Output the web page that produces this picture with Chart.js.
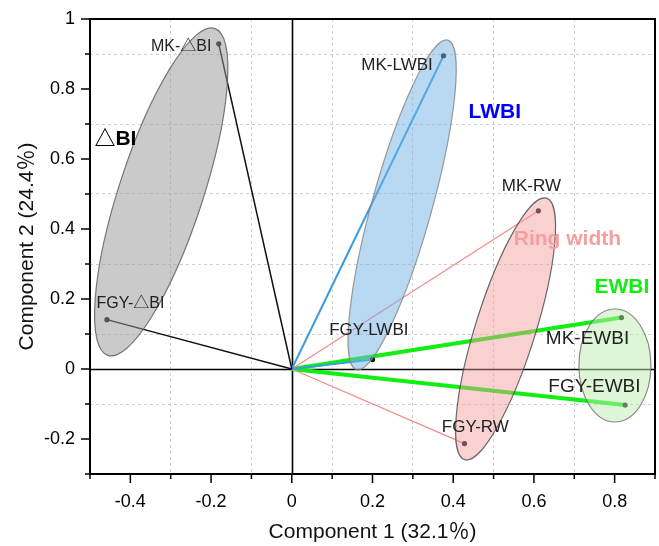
<!DOCTYPE html>
<html>
<head>
<meta charset="utf-8">
<script src="https://cdn.jsdelivr.net/npm/chart.js@4.4.1/dist/chart.umd.min.js"></script>
<style>
  html, body { margin: 0; padding: 0; background: #fff; }
  #wrap { width: 659px; height: 546px; }
</style>
</head>
<body>
<div id="wrap"><canvas id="pcaChart" width="659" height="546"></canvas></div>
<script>
// PCA loadings
const variables = ['MK-△BI', 'FGY-△BI', 'MK-LWBI', 'FGY-LWBI', 'MK-RW', 'FGY-RW', 'MK-EWBI', 'FGY-EWBI'];
const component1 = [-0.181, -0.458, 0.376, 0.200, 0.611, 0.428, 0.817, 0.826];
const component2 = [0.929, 0.141, 0.895, 0.027, 0.452, -0.213, 0.147, -0.103];
const variableGroup = [0, 0, 1, 1, 2, 2, 3, 3];

const groupNames = ['△BI', 'LWBI', 'Ring width', 'EWBI'];
const xTickLabels = [-0.4, -0.2, 0, 0.2, 0.4, 0.6, 0.8];
const yTickLabels = [-0.2, 0, 0.2, 0.4, 0.6, 0.8, 1];

// look of each group: vector colour, ellipse (centre in data units, radii in px), group label spot
const groupStyle = [
  { line: '#111111', lineWidth: 1.5, text: '#000000',
    fill: 'rgba(150,150,150,0.5)', edge: 'rgba(90,90,90,0.8)',
    ell: { cx: -0.3235, cy: 0.506, rx: 172, ry: 42, rot: -71.9 }, tag: { x: -0.437, y: 0.657 } },
  { line: '#3c9be0', lineWidth: 2, text: '#0000ff',
    fill: 'rgba(115,180,232,0.5)', edge: 'rgba(130,130,130,0.8)',
    ell: { cx: 0.2735, cy: 0.469, rx: 171, ry: 30, rot: -74.5 }, tag: { x: 0.503, y: 0.735 } },
  { line: '#f48c8c', lineWidth: 1.3, text: '#f4a0a0',
    fill: 'rgba(245,152,152,0.45)', edge: 'rgba(70,70,70,0.8)',
    ell: { cx: 0.5297, cy: 0.1146, rx: 137, ry: 30, rot: -72.6 }, tag: { x: 0.683, y: 0.371 } },
  { line: '#11ee11', lineWidth: 4, text: '#11ee11',
    fill: 'rgba(190,236,175,0.5)', edge: 'rgba(110,110,110,0.8)',
    ell: { cx: 0.8007, cy: 0.010, rx: 36, ry: 56.5, rot: 0 }, tag: { x: 0.818, y: 0.234 } }
];

// label offsets from the point (px) and font size for each variable
const labelOffset = [[-37.5, 3], [23.5, -16], [-46.5, 9.7], [-3.7, -29], [-7, -24.3], [10.8, -16.4], [-34, 21.3], [-30.7, -18]];
const labelSize = [16, 16, 17, 17, 17, 17, 19, 19];

const FONT = "'Liberation Sans', Arial, 'Noto Sans CJK SC', sans-serif";

function isOddTenth(v) {
  return Math.abs(Math.round(v * 10)) % 2 === 1;
}

const datasets = variables.map((name, i) => {
  const st = groupStyle[variableGroup[i]];
  return {
    label: name,
    data: [{ x: 0, y: 0 }, { x: component1[i], y: component2[i] }],
    showLine: true,
    borderColor: st.line,
    borderWidth: st.lineWidth,
    pointRadius: [0, 2.6],
    pointHoverRadius: [0, 2.6],
    pointBackgroundColor: '#111',
    pointBorderWidth: 0
  };
});

const biplotDecor = {
  id: 'biplotDecor',
  beforeDatasetsDraw(chart) {
    const { ctx, chartArea: a, scales: { x, y } } = chart;
    ctx.save();
    ctx.strokeStyle = '#000';
    ctx.lineWidth = 1.6;
    ctx.beginPath();
    const x0 = Math.round(x.getPixelForValue(0)) + 0.5;
    const y0 = Math.round(y.getPixelForValue(0)) + 0.5;
    ctx.moveTo(x0, a.top); ctx.lineTo(x0, a.bottom);
    ctx.moveTo(a.left, y0); ctx.lineTo(a.right, y0);
    ctx.stroke();
    ctx.restore();
  },
  afterDatasetsDraw(chart) {
    const { ctx, scales: { x, y } } = chart;
    groupStyle.forEach(st => {
      const e = st.ell;
      ctx.save();
      ctx.beginPath();
      ctx.ellipse(x.getPixelForValue(e.cx), y.getPixelForValue(e.cy), e.rx, e.ry, e.rot * Math.PI / 180, 0, Math.PI * 2);
      ctx.fillStyle = st.fill;
      ctx.fill();
      ctx.strokeStyle = st.edge;
      ctx.lineWidth = 1.2;
      ctx.stroke();
      ctx.restore();
    });
  },
  afterDraw(chart) {
    const { ctx, chartArea: a, scales: { x, y } } = chart;
    ctx.save();
    // tick marks, outward on left and bottom
    ctx.strokeStyle = '#000';
    ctx.lineWidth = 1.5;
    ctx.beginPath();
    x.ticks.forEach(t => {
      const px = x.getPixelForValue(t.value);
      const len = isOddTenth(t.value) ? 5 : 9;
      ctx.moveTo(px, a.bottom); ctx.lineTo(px, a.bottom + len);
    });
    y.ticks.forEach(t => {
      const py = y.getPixelForValue(t.value);
      const len = isOddTenth(t.value) ? 5 : 9;
      ctx.moveTo(a.left, py); ctx.lineTo(a.left - len, py);
    });
    ctx.stroke();
    // frame
    ctx.lineWidth = 2;
    ctx.strokeRect(a.left, a.top, a.right - a.left, a.bottom - a.top);

    // variable labels
    ctx.textAlign = 'center';
    ctx.textBaseline = 'middle';
    ctx.fillStyle = '#222';
    variables.forEach((name, i) => {
      const px = x.getPixelForValue(component1[i]) + labelOffset[i][0];
      const py = y.getPixelForValue(component2[i]) + labelOffset[i][1];
      ctx.font = labelSize[i] + 'px ' + FONT;
      ctx.fillText(name, px, py);
    });
    // group labels
    groupNames.forEach((name, g) => {
      const st = groupStyle[g];
      ctx.font = 'bold 21px ' + FONT;
      ctx.fillStyle = st.text;
      ctx.fillText(name, x.getPixelForValue(st.tag.x), y.getPixelForValue(st.tag.y));
    });
    ctx.restore();
  }
};

function tickText(list) {
  return function (value) {
    const v = Math.round(value * 10) / 10;
    return list.some(t => Math.abs(t - v) < 1e-6) ? String(v) : '';
  };
}

const gridColor = c => (c.tick && isOddTenth(c.tick.value)) ? '#cfcfcf' : 'rgba(0,0,0,0)';

const ctx = document.getElementById('pcaChart').getContext('2d');
new Chart(ctx, {
  type: 'scatter',
  data: { datasets: datasets },
  plugins: [biplotDecor],
  options: {
    responsive: false,
    animation: false,
    events: [],
    layout: { padding: { top: 19, right: 4, left: 0, bottom: 0 } },
    plugins: { legend: { display: false }, tooltip: { enabled: false } },
    scales: {
      x: {
        type: 'linear',
        min: -0.5,
        max: 0.9,
        afterFit: s => { s.height = 72; s.paddingLeft = 0; s.paddingRight = 0; },
        ticks: { stepSize: 0.1, autoSkip: false, maxRotation: 0, padding: 17, color: '#000',
                 font: { family: FONT, size: 18 }, callback: tickText(xTickLabels) },
        grid: { color: gridColor, lineWidth: 1, drawTicks: false },
        border: { display: false, dash: [3, 3] },
        title: { display: true, text: 'Component 1 (32.1％)', color: '#111',
                 font: { family: FONT, size: 21 }, padding: { top: 0, bottom: 1 } }
      },
      y: {
        type: 'linear',
        min: -0.3,
        max: 1,
        afterFit: s => { s.width = 90; s.paddingTop = 0; s.paddingBottom = 0; },
        ticks: { stepSize: 0.1, autoSkip: false, padding: 15, color: '#000',
                 font: { family: FONT, size: 18 }, callback: tickText(yTickLabels) },
        grid: { color: gridColor, lineWidth: 1, drawTicks: false },
        border: { display: false, dash: [3, 3] },
        title: { display: true, text: 'Component 2 (24.4％)', color: '#111',
                 font: { family: FONT, size: 21 }, padding: { top: 15, bottom: 0 } }
      }
    }
  }
});
</script>
</body>
</html>
